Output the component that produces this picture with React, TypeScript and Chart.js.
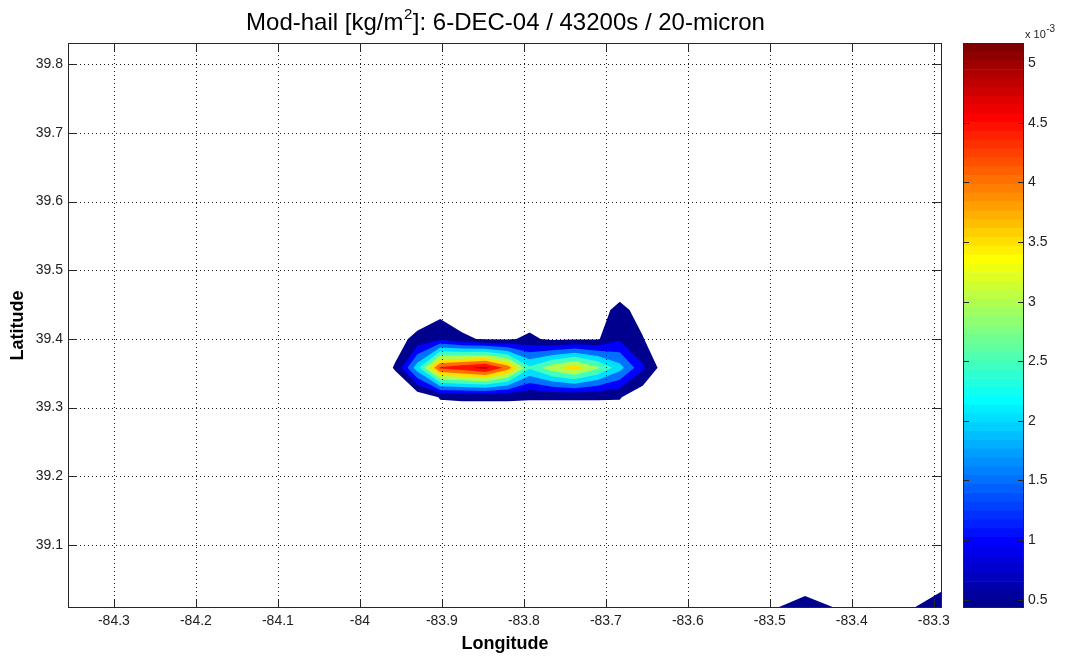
import { useEffect, useRef } from 'react';
import { Chart, registerables } from 'chart.js';

Chart.register(...registerables);

const FONT = "'Liberation Sans', Arial, Helvetica, sans-serif";

// ---------------- data ----------------
// main hail patch: grid nodes (longitude, latitude) and hail mass in 10^-3 kg/m^2
const mainLon = [-83.985, -83.957, -83.93, -83.902, -83.875, -83.847, -83.82, -83.793, -83.765, -83.738, -83.71, -83.683, -83.655, -83.628, -83.6];
const mainLat = [39.273, 39.315, 39.358, 39.4, 39.442, 39.485];
const mainHail = [
  [0, 0, 0, 0, 0, 0, 0, 0, 0, 0, 0, 0, 0, 0, 0],
  [0, 0, 0, 0.47, 0.5, 0.5, 0.5, 0.48, 0.48, 0.48, 0.48, 0.47, 0, 0, 0],
  [0, 0.48, 2.3, 4.6, 4.85, 5.17, 4.3, 2.6, 3.35, 3.8, 3.1, 2.2, 1.1, 0.1, 0],
  [0, 0.2, 0.6, 0.9, 0.55, 0.35, 0.35, 0.55, 0.3, 0.35, 0.38, 0.9, 0.46, 0, 0],
  [0, 0, 0, 0.22, 0, 0, 0, 0, 0, 0, 0.2, 0.6, 0.2, 0, 0],
  [0, 0, 0, 0, 0, 0, 0, 0, 0, 0, 0, 0, 0, 0, 0],
];
// south-east corner patch
const seLon = [-83.52, -83.457, -83.39, -83.36, -83.29];
const seLat = [39.008, 39.04];
const seHail = [
  [0, 0.95, 0, 0, 0.85],
  [0, 0, 0, 0, 0.3],
];

const contourLevels = [0.43, 1, 1.5, 2, 2.5, 3, 3.5, 4, 4.5, 5];
const colorMin = 0.43;
const colorMax = 5.17;
const colorbarTicks = [0.5, 1, 1.5, 2, 2.5, 3, 3.5, 4, 4.5, 5];

const lonMin = -84.356;
const lonMax = -83.29;
const latMin = 39.008;
const latMax = 39.831;
const lonTicks = [-84.3, -84.2, -84.1, -84, -83.9, -83.8, -83.7, -83.6, -83.5, -83.4, -83.3];
const latTicks = [39.1, 39.2, 39.3, 39.4, 39.5, 39.6, 39.7, 39.8];

const titleMain = 'Mod-hail [kg/m';
const titleSup = '2';
const titleRest = ']: 6-DEC-04 / 43200s / 20-micron';

// ---------------- colormap (MATLAB jet, 64 entries) ----------------
function jetU(k: number) {
  if (k < 1 || k > 47) return 0;
  if (k <= 16) return k / 16;
  if (k <= 31) return 1;
  return (48 - k) / 16;
}
function jet64(i: number): string {
  const r = i >= 25 ? jetU(i - 24) : 0;
  const g = i >= 9 && i <= 55 ? jetU(i - 8) : 0;
  const b = i <= 39 ? jetU(i + 8) : 0;
  return `rgb(${Math.round(r * 255)},${Math.round(g * 255)},${Math.round(b * 255)})`;
}
function levelColor(v: number) {
  let idx = Math.floor(((v - colorMin) / (colorMax - colorMin)) * 64 + 1e-9) + 1;
  idx = Math.max(1, Math.min(64, idx));
  return jet64(idx);
}

type P3 = [number, number, number];
// region of a grid cell where the linearly interpolated value >= level
function clipPoly(pts: P3[], level: number): [number, number][] {
  const out: [number, number][] = [];
  for (let i = 0; i < pts.length; i++) {
    const a = pts[i];
    const b = pts[(i + 1) % pts.length];
    const ina = a[2] >= level;
    const inb = b[2] >= level;
    if (ina) out.push([a[0], a[1]]);
    if (ina !== inb) {
      const t = (level - a[2]) / (b[2] - a[2]);
      out.push([a[0] + t * (b[0] - a[0]), a[1] + t * (b[1] - a[1])]);
    }
  }
  return out;
}

const patches = [
  { lon: mainLon, lat: mainLat, z: mainHail },
  { lon: seLon, lat: seLat, z: seHail },
];

const fmt = (v: number) => String(Math.round(v * 10) / 10);

const mainPlugin = {
  id: 'contourf',
  afterDraw(chart: any) {
    const { ctx, chartArea: a, scales } = chart;
    const xs = scales.x;
    const ys = scales.y;
    // filled contours
    ctx.save();
    ctx.beginPath();
    ctx.rect(a.left, a.top, a.right - a.left, a.bottom - a.top);
    ctx.clip();
    for (const level of contourLevels) {
      ctx.beginPath();
      for (const p of patches) {
        for (let j = 0; j < p.lat.length - 1; j++) {
          for (let i = 0; i < p.lon.length - 1; i++) {
            const c: P3[] = [
              [xs.getPixelForValue(p.lon[i]), ys.getPixelForValue(p.lat[j]), p.z[j][i]],
              [xs.getPixelForValue(p.lon[i + 1]), ys.getPixelForValue(p.lat[j]), p.z[j][i + 1]],
              [xs.getPixelForValue(p.lon[i + 1]), ys.getPixelForValue(p.lat[j + 1]), p.z[j + 1][i + 1]],
              [xs.getPixelForValue(p.lon[i]), ys.getPixelForValue(p.lat[j + 1]), p.z[j + 1][i]],
            ];
            const poly = clipPoly(c, level);
            if (poly.length >= 3) {
              ctx.moveTo(poly[0][0], poly[0][1]);
              for (let m = 1; m < poly.length; m++) ctx.lineTo(poly[m][0], poly[m][1]);
              ctx.closePath();
            }
          }
        }
      }
      ctx.fillStyle = levelColor(level);
      ctx.fill();
    }
    ctx.restore();

    // dotted grid
    ctx.save();
    ctx.strokeStyle = 'rgba(0,0,0,0.9)';
    ctx.lineWidth = 1;
    ctx.setLineDash([1, 3]);
    for (const v of lonTicks) {
      const x = Math.round(xs.getPixelForValue(v)) + 0.5;
      ctx.beginPath();
      ctx.moveTo(x, a.top);
      ctx.lineTo(x, a.bottom);
      ctx.stroke();
    }
    for (const v of latTicks) {
      const y = Math.round(ys.getPixelForValue(v)) + 0.5;
      ctx.beginPath();
      ctx.moveTo(a.left, y);
      ctx.lineTo(a.right, y);
      ctx.stroke();
    }
    ctx.setLineDash([]);
    // box and inner ticks
    ctx.strokeStyle = '#262626';
    ctx.strokeRect(a.left + 0.5, a.top + 0.5, a.right - a.left - 1, a.bottom - a.top - 1);
    ctx.beginPath();
    for (const v of lonTicks) {
      const x = Math.round(xs.getPixelForValue(v)) + 0.5;
      ctx.moveTo(x, a.bottom);
      ctx.lineTo(x, a.bottom - 9);
      ctx.moveTo(x, a.top);
      ctx.lineTo(x, a.top + 9);
    }
    for (const v of latTicks) {
      const y = Math.round(ys.getPixelForValue(v)) + 0.5;
      ctx.moveTo(a.left, y);
      ctx.lineTo(a.left + 9, y);
      ctx.moveTo(a.right, y);
      ctx.lineTo(a.right - 9, y);
    }
    ctx.stroke();

    // title with superscript
    ctx.fillStyle = '#000';
    ctx.textBaseline = 'alphabetic';
    ctx.textAlign = 'left';
    const big = `24px ${FONT}`;
    const small = `15px ${FONT}`;
    ctx.font = big;
    const w1 = ctx.measureText(titleMain).width;
    const w3 = ctx.measureText(titleRest).width;
    ctx.font = small;
    const w2 = ctx.measureText(titleSup).width;
    const total = w1 + w2 + w3;
    const cx = (a.left + a.right) / 2;
    const x0 = cx - total / 2;
    const base = 29.5;
    ctx.font = big;
    ctx.fillText(titleMain, x0, base);
    ctx.font = small;
    ctx.fillText(titleSup, x0 + w1 + 0.5, base - 11);
    ctx.font = big;
    ctx.fillText(titleRest, x0 + w1 + w2 + 1, base);
    ctx.restore();
  },
};

const colorbarPlugin = {
  id: 'colorbarFrame',
  afterDraw(chart: any) {
    const { ctx, chartArea: a, scales } = chart;
    const ys = scales.y;
    ctx.save();
    ctx.strokeStyle = '#262626';
    ctx.lineWidth = 1;
    ctx.strokeRect(a.left + 0.5, a.top + 0.5, a.right - a.left - 1, a.bottom - a.top - 1);
    ctx.beginPath();
    for (const v of colorbarTicks) {
      const y = Math.round(ys.getPixelForValue(v)) + 0.5;
      ctx.moveTo(a.left, y);
      ctx.lineTo(a.left + 6, y);
      ctx.moveTo(a.right, y);
      ctx.lineTo(a.right - 6, y);
    }
    ctx.stroke();
    ctx.fillStyle = '#222';
    ctx.textAlign = 'left';
    ctx.textBaseline = 'alphabetic';
    ctx.font = `11px ${FONT}`;
    ctx.fillText('x 10', a.right + 1, 38);
    const w = ctx.measureText('x 10').width;
    ctx.font = `10px ${FONT}`;
    ctx.fillText('-3', a.right + 1.5 + w, 31.5);
    ctx.restore();
  },
};

export default function App() {
  const mainRef = useRef<HTMLCanvasElement>(null);
  const cbRef = useRef<HTMLCanvasElement>(null);

  useEffect(() => {
    const tickFont = { family: FONT, size: 14 };
    const main = new Chart(mainRef.current as HTMLCanvasElement, {
      type: 'scatter',
      data: { datasets: [] },
      options: {
        animation: false,
        responsive: false,
        layout: { padding: { left: 0, right: 123, top: 43, bottom: 0 } },
        plugins: { legend: { display: false }, tooltip: { enabled: false }, title: { display: false } },
        scales: {
          x: {
            type: 'linear',
            min: lonMin,
            max: lonMax,
            grid: { display: false, drawTicks: false },
            border: { display: false },
            afterBuildTicks: (s: any) => {
              s.ticks = lonTicks.map((v) => ({ value: v }));
            },
            afterFit: (s: any) => {
              s.height = 48;
            },
            ticks: { font: tickFont, color: '#222', padding: 5, autoSkip: false, maxRotation: 0, callback: (v: any) => fmt(Number(v)) },
            title: { display: true, text: 'Longitude', color: '#000', font: { family: FONT, size: 18, weight: 'bold' }, padding: { top: 0, bottom: 1.5 } },
          },
          y: {
            type: 'linear',
            min: latMin,
            max: latMax,
            grid: { display: false, drawTicks: false },
            border: { display: false },
            afterBuildTicks: (s: any) => {
              s.ticks = latTicks.map((v) => ({ value: v }));
            },
            afterFit: (s: any) => {
              s.width = 68;
            },
            ticks: { font: tickFont, color: '#222', padding: 5, autoSkip: false, callback: (v: any) => fmt(Number(v)) },
            title: { display: true, text: 'Latitude', color: '#000', font: { family: FONT, size: 18, weight: 'bold' }, padding: { top: 7.5, bottom: 0 } },
          },
        },
      } as any,
      plugins: [mainPlugin],
    });

    const bins = 64;
    const step = (colorMax - colorMin) / bins;
    const datasets = Array.from({ length: bins }, (_, i) => ({
      data: [[colorMin + i * step, colorMin + (i + 1) * step]],
      backgroundColor: jet64(i + 1),
      borderWidth: 0,
      grouped: false,
      barPercentage: 1,
      categoryPercentage: 1,
    }));
    const cb = new Chart(cbRef.current as HTMLCanvasElement, {
      type: 'bar',
      data: { labels: [''], datasets: datasets as any },
      options: {
        animation: false,
        responsive: false,
        layout: { padding: { left: 963, right: 0, top: 43, bottom: 48 } },
        plugins: { legend: { display: false }, tooltip: { enabled: false } },
        scales: {
          x: { display: false },
          y: {
            type: 'linear',
            position: 'right',
            min: colorMin,
            max: colorMax,
            grid: { display: false, drawTicks: false },
            border: { display: false },
            afterBuildTicks: (s: any) => {
              s.ticks = colorbarTicks.map((v) => ({ value: v }));
            },
            afterFit: (s: any) => {
              s.width = 41;
            },
            ticks: { font: tickFont, color: '#222', padding: 4, autoSkip: false, callback: (v: any) => fmt(Number(v)) },
          },
        },
      } as any,
      plugins: [colorbarPlugin],
    });

    return () => {
      main.destroy();
      cb.destroy();
    };
  }, []);

  return (
    <div style={{ position: 'fixed', left: 0, top: 0, width: 1065, height: 656, background: '#fff', overflow: 'hidden' }}>
      <canvas ref={mainRef} width={1065} height={656} style={{ position: 'absolute', left: 0, top: 0 }} />
      <canvas ref={cbRef} width={1065} height={656} style={{ position: 'absolute', left: 0, top: 0 }} />
    </div>
  );
}
